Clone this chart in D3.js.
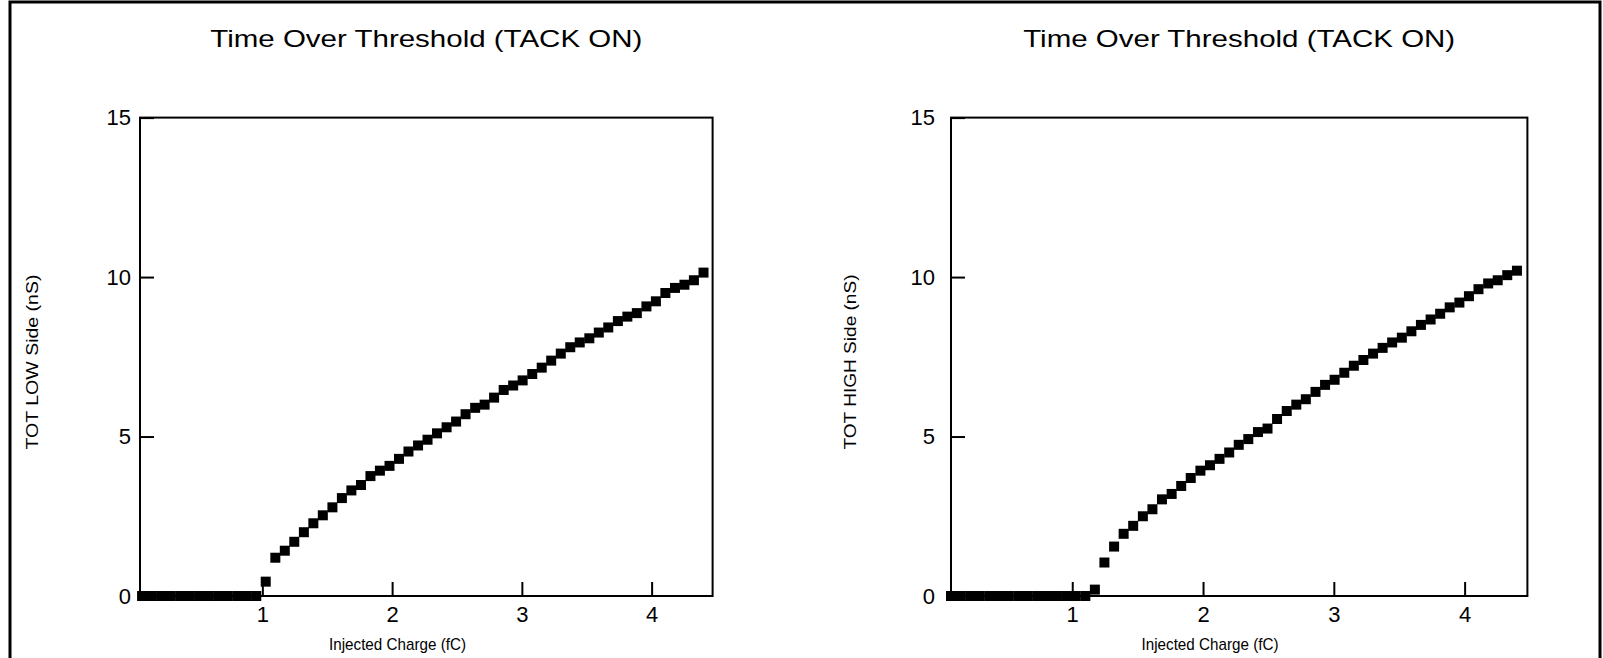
<!DOCTYPE html>
<html>
<head>
<meta charset="utf-8">
<script src="https://cdn.jsdelivr.net/npm/d3@7/dist/d3.min.js"></script>
<style>
  html, body { margin: 0; padding: 0; background: #fff; }
  svg { display: block; }
  text { font-family: "Liberation Sans", Arial, sans-serif; fill: #000; }
</style>
</head>
<body>
<svg id="chart" width="1603" height="658"></svg>
<script>
// ---- data ----
const chartTitle = "Time Over Threshold (TACK ON)";
const xLabel = "Injected Charge (fC)";
const yLabels = ["TOT LOW Side (nS)", "TOT HIGH Side (nS)"];
const xTicks = [1, 2, 3, 4];
const yTicks = [0, 5, 10, 15];
const charge = [0.073, 0.147, 0.22, 0.293, 0.367, 0.44, 0.513, 0.587, 0.66, 0.733,
  0.807, 0.88, 0.953, 1.026, 1.1, 1.173, 1.246, 1.32, 1.393, 1.466,
  1.54, 1.613, 1.686, 1.76, 1.833, 1.906, 1.98, 2.053, 2.126, 2.2,
  2.273, 2.346, 2.42, 2.493, 2.566, 2.64, 2.713, 2.786, 2.86, 2.933,
  3.006, 3.08, 3.153, 3.226, 3.3, 3.373, 3.446, 3.52, 3.593, 3.666,
  3.74, 3.813, 3.886, 3.96, 4.033, 4.106, 4.18, 4.253, 4.326, 4.4];
const totLow = [0, 0, 0, 0, 0, 0, 0, 0, 0, 0,
  0, 0, 0, 0.45, 1.2, 1.42, 1.7, 2.0, 2.28, 2.53,
  2.78, 3.07, 3.31, 3.48, 3.76, 3.93, 4.08, 4.3, 4.53, 4.72,
  4.9, 5.1, 5.29, 5.47, 5.7, 5.9, 6.0, 6.22, 6.46, 6.6,
  6.76, 6.96, 7.16, 7.38, 7.6, 7.8, 7.95, 8.08, 8.26, 8.42,
  8.62, 8.76, 8.87, 9.08, 9.24, 9.5, 9.66, 9.76, 9.9, 10.14];
const totHigh = [0, 0, 0, 0, 0, 0, 0, 0, 0, 0,
  0, 0, 0, 0, 0, 0.2, 1.05, 1.55, 1.95, 2.2,
  2.5, 2.72, 3.03, 3.2, 3.45, 3.7, 3.93, 4.1, 4.3, 4.5,
  4.74, 4.92, 5.14, 5.25, 5.55, 5.8, 6.0, 6.17, 6.4, 6.62,
  6.78, 7.0, 7.22, 7.4, 7.6, 7.78, 7.95, 8.1, 8.3, 8.5,
  8.67, 8.85, 9.05, 9.2, 9.4, 9.62, 9.8, 9.9, 10.06, 10.2];
const xDomains = [[0.057, 4.47], [0.073, 4.48]];
const yDomain = [0, 15];

// ---- layout ----
const svg = d3.select("#chart");
svg.append("rect").attr("x", 10).attr("y", 2).attr("width", 1590).attr("height", 720)
  .attr("fill", "none").attr("stroke", "#000").attr("stroke-width", 3);

const panels = [
  { left: 140, right: 712.6, series: totLow, yLabel: yLabels[0], yLabelX: 32, tickGap: 9, xLabelCx: 397.5 },
  { left: 951, right: 1527.4, series: totHigh, yLabel: yLabels[1], yLabelX: 850, tickGap: 16, xLabelCx: 1210 }
];
const plotTop = 117.6, plotBottom = 596;

panels.forEach((p, i) => {
  const x = d3.scaleLinear().domain(xDomains[i]).range([p.left, p.right]);
  const y = d3.scaleLinear().domain(yDomain).range([plotBottom, plotTop]);
  const g = svg.append("g");

  // title
  g.append("text").attr("x", (p.left + p.right) / 2).attr("y", 47)
    .attr("text-anchor", "middle").attr("font-size", 24)
    .attr("textLength", 432).attr("lengthAdjust", "spacingAndGlyphs")
    .text(chartTitle);

  // frame
  g.append("rect").attr("x", p.left).attr("y", plotTop)
    .attr("width", p.right - p.left).attr("height", plotBottom - plotTop)
    .attr("fill", "none").attr("stroke", "#000").attr("stroke-width", 2);

  // x axis (inward ticks)
  const xAxis = d3.axisBottom(x).tickValues(xTicks).tickSize(-14).tickPadding(14).tickFormat(d3.format("d"));
  const xg = g.append("g").attr("transform", `translate(0,${plotBottom})`).call(xAxis);
  xg.select(".domain").remove();
  xg.selectAll(".tick line").attr("stroke", "#000").attr("stroke-width", 2);
  xg.selectAll(".tick text").attr("font-size", 22).attr("font-family", "Liberation Sans, Arial, sans-serif")
    .attr("fill", "#000").attr("dy", "0.55em");

  // y axis (inward ticks)
  const yAxis = d3.axisLeft(y).tickValues(yTicks).tickSize(-14).tickPadding(p.tickGap).tickFormat(d3.format("d"));
  const yg = g.append("g").attr("transform", `translate(${p.left},0)`).call(yAxis);
  yg.select(".domain").remove();
  yg.selectAll(".tick line").attr("stroke", "#000").attr("stroke-width", 2);
  yg.selectAll(".tick text").attr("font-size", 22).attr("font-family", "Liberation Sans, Arial, sans-serif")
    .attr("fill", "#000");

  // axis labels
  g.append("text").attr("x", p.xLabelCx).attr("y", 650)
    .attr("text-anchor", "middle").attr("font-size", 17)
    .attr("textLength", 137).attr("lengthAdjust", "spacingAndGlyphs")
    .text(xLabel);
  g.append("text")
    .attr("transform", `translate(${p.yLabelX + 6},${362}) rotate(-90)`)
    .attr("text-anchor", "middle").attr("font-size", 16)
    .attr("textLength", 175).attr("lengthAdjust", "spacingAndGlyphs")
    .text(p.yLabel);

  // data squares
  const s = 10;
  g.append("g").selectAll("rect").data(charge.map((c, k) => [c, p.series[k]]))
    .join("rect")
    .attr("x", d => x(d[0]) - s / 2).attr("y", d => y(d[1]) - s / 2)
    .attr("width", s).attr("height", s).attr("fill", "#000");
});
</script>
</body>
</html>
